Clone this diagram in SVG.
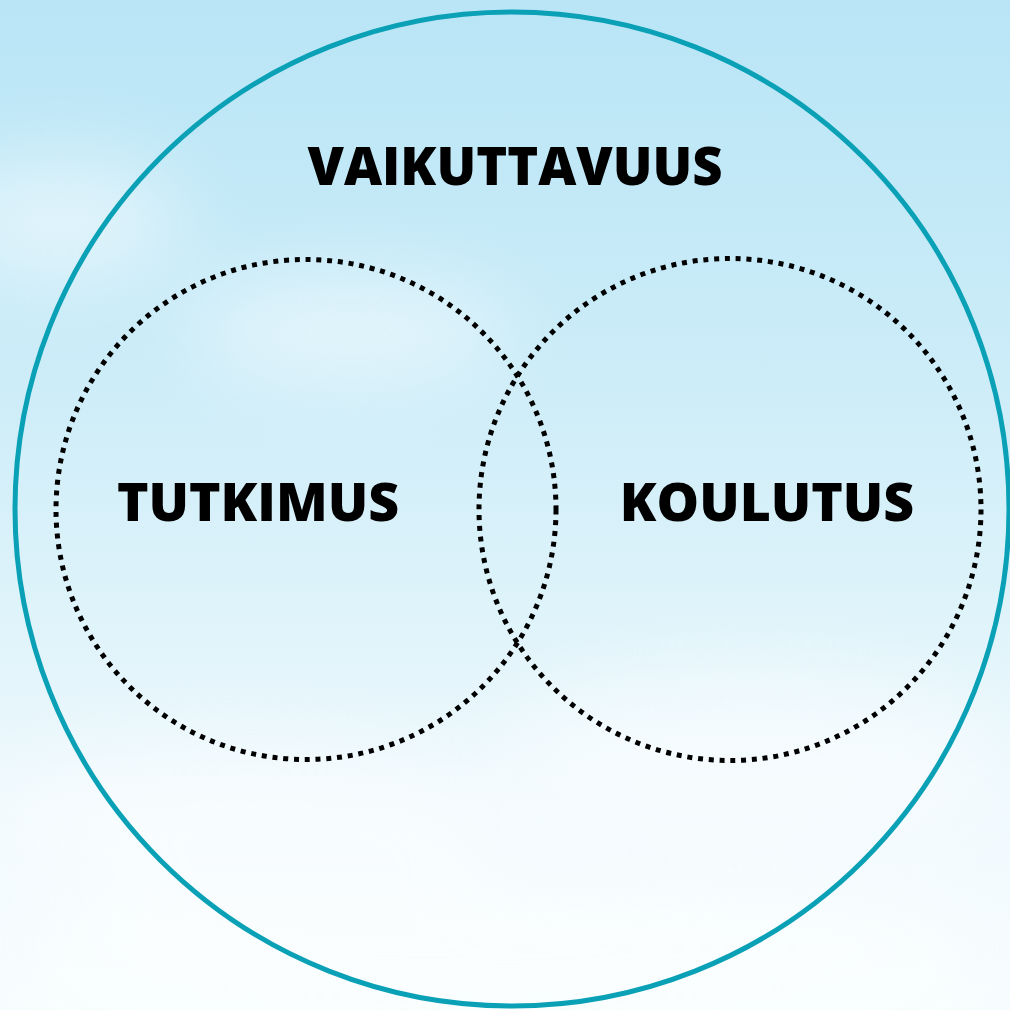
<svg xmlns="http://www.w3.org/2000/svg" width="1010" height="1010" viewBox="0 0 1010 1010">
  <defs>
    <linearGradient id="sky" x1="0" y1="0" x2="0" y2="1">
      <stop offset="0" stop-color="#b9e5f6"/>
      <stop offset="0.35" stop-color="#cbecf8"/>
      <stop offset="0.6" stop-color="#def3fa"/>
      <stop offset="0.8" stop-color="#eff9fd"/>
      <stop offset="1" stop-color="#f7fdfe"/>
    </linearGradient>
    <filter id="blur" x="-50%" y="-50%" width="200%" height="200%">
      <feGaussianBlur stdDeviation="40"/>
    </filter>
    <style>
      .label { font-family: "Open Sans", "Liberation Sans", sans-serif; font-weight: 800; font-size: 53.5px; fill: #000; text-anchor: middle; }
      .title { font-size: 52.5px; }
      .dotted { fill: none; stroke: #000; stroke-width: 5; stroke-dasharray: 5 5.8; }
      .outer { fill: none; stroke: #0aa0b6; stroke-width: 5; }
    </style>
  </defs>
  <rect width="1010" height="1010" fill="url(#sky)"/>
  <g filter="url(#blur)" opacity="0.5">
    <ellipse cx="60" cy="220" rx="120" ry="60" fill="#ffffff"/>
    <ellipse cx="350" cy="330" rx="160" ry="50" fill="#ffffff"/>
    <ellipse cx="250" cy="820" rx="260" ry="80" fill="#ffffff"/>
    <ellipse cx="750" cy="760" rx="260" ry="90" fill="#ffffff"/>
    <ellipse cx="500" cy="950" rx="500" ry="80" fill="#ffffff"/>
  </g>
  <g id="vaikuttavuus">
    <circle class="outer" cx="512" cy="509" r="497"/>
    <text class="label title" x="515" y="185">VAIKUTTAVUUS</text>
  </g>
  <g id="tutkimus">
    <circle class="dotted" cx="306" cy="509.5" r="250"/>
    <text class="label" x="258" y="521">TUTKIMUS</text>
  </g>
  <g id="koulutus">
    <circle class="dotted" cx="730" cy="509.5" r="251"/>
    <text class="label" x="767" y="521">KOULUTUS</text>
  </g>
  <g id="connectors"/>
</svg>
